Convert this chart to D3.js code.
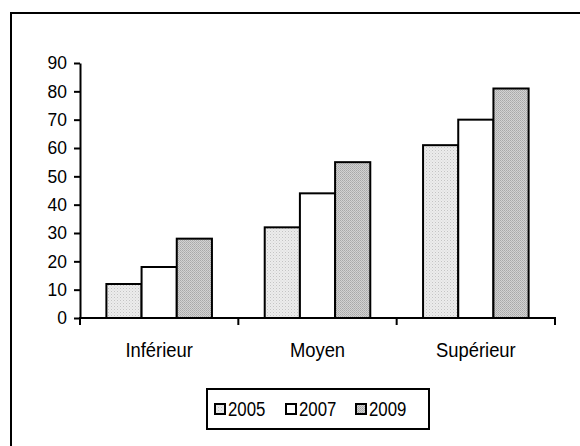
<!DOCTYPE html>
<html>
<head>
<meta charset="utf-8">
<script src="https://cdn.jsdelivr.net/npm/d3@7"></script>
<style>
body { margin: 0; background: #fff; }
text { font-family: "Liberation Sans Narrow", "Arial Narrow", "Liberation Sans", Arial, sans-serif; fill: #000; }
</style>
</head>
<body>
<script>
var width = 580, height = 446;

// data
var categories = ["Inférieur", "Moyen", "Supérieur"];
var years = ["2005", "2007", "2009"];
var values2005 = [12, 32, 61];
var values2007 = [18, 44, 70];
var values2009 = [28, 55, 81];
var yTicks = [0, 10, 20, 30, 40, 50, 60, 70, 80, 90];

var seriesValues = [values2005, values2007, values2009];
var rows = [];
categories.forEach(function(c, i){
	years.forEach(function(y, j){
		rows.push({cat: c, year: y, value: seriesValues[j][i]});
	});
});

// squeeze glyphs horizontally (the original font is a narrow one)
function condense(sel, k){
	sel.each(function(){
		var w = this.getComputedTextLength();
		d3.select(this).attr("textLength", w * k).attr("lengthAdjust", "spacingAndGlyphs");
	});
}

var svg = d3.select("body")
	.append("svg")
	.attr("width", width)
	.attr("height", height);

var defs = svg.append("defs");
// light dotted fill for 2005
var p1 = defs.append("pattern").attr("id", "fill-2005")
	.attr("patternUnits", "userSpaceOnUse").attr("width", 3).attr("height", 3);
p1.append("rect").attr("width", 3).attr("height", 3).attr("fill", "#ececec");
p1.append("rect").attr("x", 0).attr("y", 0).attr("width", 1).attr("height", 1).attr("fill", "#c4c4c4");
p1.append("rect").attr("x", 1.5).attr("y", 1.5).attr("width", 1).attr("height", 1).attr("fill", "#d4d4d4");
// darker fill for 2009
var p2 = defs.append("pattern").attr("id", "fill-2009")
	.attr("patternUnits", "userSpaceOnUse").attr("width", 2).attr("height", 2);
p2.append("rect").attr("width", 2).attr("height", 2).attr("fill", "#d2d2d2");
p2.append("rect").attr("x", 0).attr("y", 0).attr("width", 1).attr("height", 1).attr("fill", "#a8a8a8");
p2.append("rect").attr("x", 1).attr("y", 1).attr("width", 1).attr("height", 1).attr("fill", "#b4b4b4");

var fills = {"2005": "url(#fill-2005)", "2007": "#fff", "2009": "url(#fill-2009)"};

// outer frame (cut off at right and bottom)
svg.append("rect")
	.attr("x", 11).attr("y", 13)
	.attr("width", 600).attr("height", 460)
	.attr("fill", "none").attr("stroke", "#000").attr("stroke-width", 2);

var y = d3.scaleLinear().domain([0, 90]).range([318, 63]);
var x0 = d3.scaleBand().domain(categories).range([80, 555]).padding(0);
var x1 = d3.scaleBand().domain(years).range([0, x0.bandwidth()])
	.paddingInner(0).paddingOuter(0.75);

// bars
svg.append("g").selectAll("rect")
	.data(rows)
	.enter().append("rect")
	.attr("x", function(d){ return x0(d.cat) + x1(d.year); })
	.attr("y", function(d){ return y(d.value); })
	.attr("width", x1.bandwidth())
	.attr("height", function(d){ return y(0) - y(d.value); })
	.attr("fill", function(d){ return fills[d.year]; })
	.attr("stroke", "#000")
	.attr("stroke-width", 2);

// y axis
var yAxis = svg.append("g")
	.attr("transform", "translate(80,0)")
	.call(d3.axisLeft(y).tickValues(yTicks).tickSize(6).tickPadding(7).tickSizeOuter(0));
yAxis.select(".domain").attr("stroke-width", 2);
yAxis.selectAll(".tick line").attr("stroke-width", 2);
yAxis.selectAll(".tick text").style("font-size", "18px").attr("fill", "#000")
	.call(condense, 0.97);

// x axis line + category separator ticks
svg.append("line")
	.attr("x1", 79).attr("x2", 556)
	.attr("y1", y(0)).attr("y2", y(0))
	.attr("stroke", "#000").attr("stroke-width", 2);
var bounds = categories.map(function(c){ return x0(c); }).concat([x0.range()[1]]);
svg.append("g").selectAll("line")
	.data(bounds)
	.enter().append("line")
	.attr("x1", function(d){ return d; }).attr("x2", function(d){ return d; })
	.attr("y1", y(0)).attr("y2", y(0) + 7)
	.attr("stroke", "#000").attr("stroke-width", 2);

svg.append("g").selectAll("text")
	.data(categories)
	.enter().append("text")
	.attr("x", function(d){ return x0(d) + x0.bandwidth() / 2; })
	.attr("y", 357)
	.attr("text-anchor", "middle")
	.style("font-size", "20px")
	.text(function(d){ return d; })
	.call(condense, 0.92);

// legend
var legend = svg.append("g");
legend.append("rect")
	.attr("x", 207).attr("y", 389)
	.attr("width", 222).attr("height", 40)
	.attr("fill", "#fff").attr("stroke", "#000").attr("stroke-width", 2);
var legX = [215, 286, 356];
var items = legend.selectAll("g.item")
	.data(years)
	.enter().append("g")
	.attr("transform", function(d, i){ return "translate(" + legX[i] + ",404)"; });
items.append("rect")
	.attr("width", 10).attr("height", 10)
	.attr("fill", function(d){ return fills[d]; })
	.attr("stroke", "#000").attr("stroke-width", 2);
items.append("text")
	.attr("x", 13).attr("y", 12)
	.style("font-size", "20px")
	.text(function(d){ return d; })
	.call(condense, 0.84);
</script>
</body>
</html>
